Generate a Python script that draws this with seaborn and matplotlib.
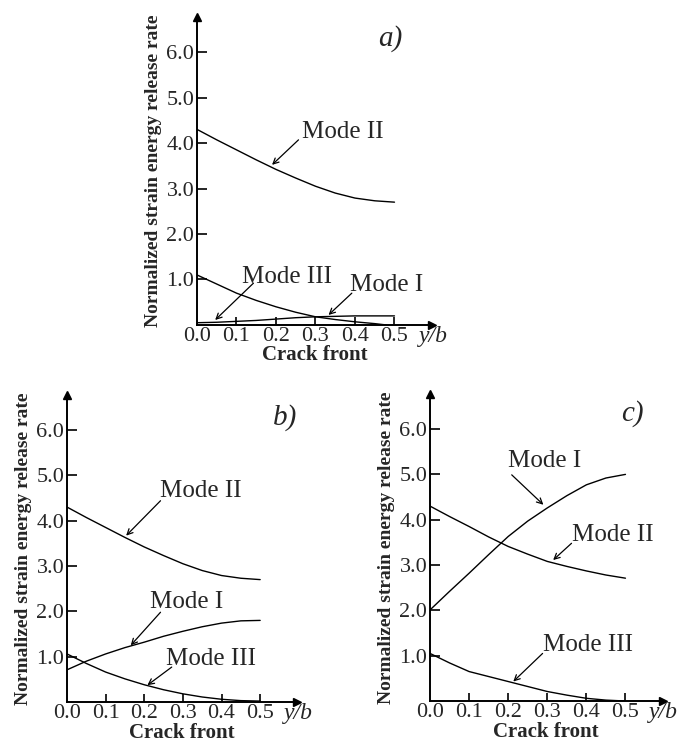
import numpy as np
import pandas as pd
import seaborn as sns
import matplotlib
matplotlib.use("Agg")
import matplotlib.pyplot as plt

#==========================================================================#
# data (y/b along crack front vs normalized G)
#==========================================================================#

y_b = [0.0, 0.05, 0.1, 0.15, 0.2, 0.25, 0.3, 0.35, 0.4, 0.45, 0.5]

# mode II is the same in all three panels
mode2 = [4.3, 4.07, 3.85, 3.63, 3.42, 3.23, 3.05, 2.9, 2.79, 2.73, 2.7]
mode2_c = [4.3, 4.07, 3.85, 3.62, 3.41, 3.24, 3.08, 2.97, 2.87, 2.78, 2.71]

# panel a
mode1_a = [0.05, 0.06, 0.08, 0.1, 0.13, 0.16, 0.18, 0.19, 0.2, 0.2, 0.2]
y_b_3 = [0.0, 0.05, 0.1, 0.15, 0.2, 0.25, 0.3, 0.35, 0.4, 0.45, 0.48]
mode3_a = [1.1, 0.9, 0.7, 0.54, 0.4, 0.28, 0.18, 0.12, 0.07, 0.03, 0.0]

# panel b
mode1_b = [0.71, 0.9, 1.06, 1.2, 1.32, 1.45, 1.56, 1.66, 1.74, 1.79, 1.8]
mode3_b = [1.06, 0.85, 0.66, 0.51, 0.38, 0.27, 0.18, 0.11, 0.06, 0.03, 0.02]

# panel c
mode1_c = [2.01, 2.42, 2.82, 3.23, 3.63, 3.97, 4.26, 4.53, 4.77, 4.92, 5.0]
mode3_c = [1.05, 0.84, 0.65, 0.54, 0.43, 0.32, 0.21, 0.13, 0.06, 0.02, 0.0]

# annotations: (text, text xy, arrow tail, arrow head)
notes_a = [("Mode II", (0.37, 4.25), (0.257, 4.07), (0.19, 3.52)),
           ("Mode III", (0.228, 1.06), (0.143, 0.92), (0.046, 0.11)),
           ("Mode I", (0.48, 0.88), (0.392, 0.70), (0.333, 0.22))]
notes_b = [("Mode II", (0.347, 4.66), (0.242, 4.44), (0.153, 3.67)),
           ("Mode I", (0.309, 2.2), (0.242, 1.98), (0.165, 1.25)),
           ("Mode III", (0.373, 0.95), (0.271, 0.77), (0.208, 0.37))]
notes_c = [("Mode I", (0.294, 5.29), (0.209, 4.99), (0.29, 4.33)),
           ("Mode II", (0.468, 3.67), (0.362, 3.48), (0.315, 3.11)),
           ("Mode III", (0.405, 1.24), (0.288, 1.05), (0.213, 0.43))]

x_ticks = [0.1, 0.2, 0.3, 0.4, 0.5]
x_labels = ["0.0", "0.1", "0.2", "0.3", "0.4", "0.5"]
y_ticks = [1, 2, 3, 4, 5, 6]
y_labels = ["1.0", "2.0", "3.0", "4.0", "5.0", "6.0"]

sns.set_style("ticks")
plt.rcParams['font.family'] = ['Liberation Serif', 'DejaVu Serif']

fig = plt.figure(figsize=(6.84, 7.43), dpi=100)


def panel(rect, curves, notes, tag, tag_xy, xpad):
    ax = fig.add_axes(rect)
    for xs, ys in curves:
        df = pd.DataFrame({"y/b": xs, "G": ys})
        sns.lineplot(data=df, x="y/b", y="G", ax=ax, color="black", lw=1.0)
    ax.set_xlim(0, 0.595)
    ax.set_ylim(0, 6.77)
    sns.despine(ax=ax)
    for s in ("left", "bottom"):
        ax.spines[s].set_linewidth(1.4)
        ax.spines[s].set_color("black")
    # axis arrows
    ax.plot(1, 0, ">k", ms=6, transform=ax.get_yaxis_transform(), clip_on=False)
    ax.plot(0, 1, "^k", ms=6, transform=ax.get_xaxis_transform(), clip_on=False)

    ax.set_xticks(x_ticks)
    ax.set_xticklabels([])
    ax.set_yticks(y_ticks)
    ax.set_yticklabels(y_labels)
    ax.tick_params(axis="x", direction="in", length=6, width=1.2, color="black")
    ax.tick_params(axis="y", direction="in", length=7, width=1.2, color="black",
                   labelsize=16, pad=2)
    # x tick labels drawn as text so 0.0 sits at the origin
    for i, lab in enumerate(x_labels):
        ax.text(i * 0.1, -0.05, lab, ha="center", va="top", fontsize=16)
    ax.text(0.598, -0.02, "y/b", ha="center", va="top", fontsize=17,
            style="italic", clip_on=False)
    ax.set_xlabel("Crack front", fontsize=15, fontweight="bold", labelpad=xpad)
    ax.set_ylabel("Normalized strain energy release rate", fontsize=14,
                  fontweight="bold", labelpad=3)

    for txt, txy, tail, head in notes:
        ax.text(txy[0], txy[1], txt, ha="center", va="center", fontsize=18)
        ax.annotate("", xy=head, xytext=tail,
                    arrowprops=dict(arrowstyle="->", lw=0.9, color="black",
                                    shrinkA=0, shrinkB=0))
    ax.text(tag_xy[0], tag_xy[1], tag, ha="center", va="center", fontsize=21,
            style="italic")
    return ax


panel([0.288, 0.5626, 0.3436, 0.4145],
      [(y_b, mode2), (y_b_3, mode3_a), (y_b, mode1_a)],
      notes_a, "a)", (0.49, 6.3), 11)
panel([0.098, 0.0552, 0.336, 0.413],
      [(y_b, mode2), (y_b, mode1_b), (y_b, mode3_b)],
      notes_b, "b)", (0.564, 6.27), 11.5)
panel([0.6287, 0.0565, 0.34, 0.413],
      [(y_b, mode2_c), (y_b, mode1_c), (y_b, mode3_c)],
      notes_c, "c)", (0.519, 6.35), 11.5)

fig.savefig("out.png", dpi=100)
